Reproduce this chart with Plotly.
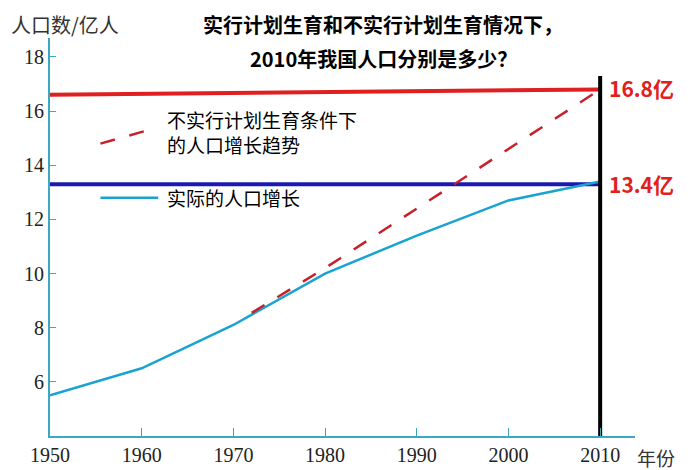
import plotly.graph_objects as go

years = [1950, 1960, 1970, 1980, 1990, 2000, 2010]
actual = [5.5, 6.5, 8.1, 10.0, 11.4, 12.7, 13.4]
trend_years = [1972, 1980, 1990, 2000, 2010]
trend = [8.55, 10.2, 12.4, 14.6, 16.8]
x_ticks = [1950, 1960, 1970, 1980, 1990, 2000, 2010]
y_ticks = [6, 8, 10, 12, 14, 16, 18]

teal = "#3aa8c1"
fig = go.Figure()
fig.add_trace(go.Scatter(x=[1950, 2010], y=[16.6, 16.8], mode="lines", line=dict(color="#e02020", width=4)))
fig.add_trace(go.Scatter(x=[1950, 2010], y=[13.3, 13.3], mode="lines", line=dict(color="#1a1ab0", width=4)))
fig.add_trace(go.Scatter(x=years, y=actual, mode="lines", line=dict(color="#1aa3d0", width=2.5)))
fig.add_trace(go.Scatter(x=trend_years, y=trend, mode="lines", line=dict(color="#c8202a", width=2.5, dash="longdash")))
fig.add_trace(go.Scatter(x=[2010, 2010], y=[4, 17.3], mode="lines", line=dict(color="black", width=4)))
# legend samples
fig.add_trace(go.Scatter(x=[1955.5, 1961.8], y=[14.8, 15.4], mode="lines", line=dict(color="#c8202a", width=2.5, dash="longdash")))
fig.add_trace(go.Scatter(x=[1955.5, 1961.8], y=[12.8, 12.8], mode="lines", line=dict(color="#1aa3d0", width=2.5)))

def t(x, y, s, size, color="black", bold=False):
    fig.add_annotation(x=x, y=y, xref="x", yref="y", text=("<b>%s</b>" % s) if bold else s,
                       showarrow=False, xanchor="left",
                       font=dict(size=size, color=color, family="Noto Sans CJK SC"))
t(2010.8, 16.85, "16.8亿", 21, "#e02020", True)
t(2010.8, 13.3, "13.4亿", 21, "#e02020", True)
t(1962.5, 15.7, "不实行计划生育条件下", 19)
t(1962.5, 14.75, "的人口增长趋势", 19)
t(1962.5, 12.8, "实际的人口增长", 19)
fig.add_annotation(x=0.57, y=1.075, xref="paper", yref="paper", text="<b>实行计划生育和不实行计划生育情况下，</b>", showarrow=False, font=dict(size=20, family="Noto Sans CJK SC", color="black"))
fig.add_annotation(x=0.57, y=0.99, xref="paper", yref="paper", text="<b>2010年我国人口分别是多少？</b>", showarrow=False, font=dict(size=20, family="Noto Sans CJK SC", color="black"))
fig.add_annotation(x=-0.07, y=1.075, xref="paper", yref="paper", text="人口数/亿人", showarrow=False, xanchor="left", font=dict(size=20, family="Noto Sans CJK SC", color="#333"))
fig.add_annotation(x=1.0, y=-0.015, xref="paper", yref="paper", text="年份", showarrow=False, xanchor="left", yanchor="top", font=dict(size=19, family="Noto Sans CJK SC", color="#333"))

fig.update_layout(
    width=700, height=470, showlegend=False, plot_bgcolor="white", paper_bgcolor="white",
    margin=dict(l=42, r=73, t=30, b=21),
    xaxis=dict(range=[1950, 2013.8], tickvals=x_ticks, ticks="inside", ticklen=8, tickcolor=teal,
               showline=True, linecolor=teal, linewidth=2, showgrid=False, zeroline=False,
               tickfont=dict(family="Liberation Serif", size=20, color="#222")),
    yaxis=dict(range=[4, 18.7], tickvals=y_ticks, ticks="inside", ticklen=6, tickcolor=teal,
               showline=True, linecolor=teal, linewidth=2, showgrid=False, zeroline=False,
               tickfont=dict(family="Liberation Serif", size=20, color="#222")),
)
fig.write_html("out.html")
